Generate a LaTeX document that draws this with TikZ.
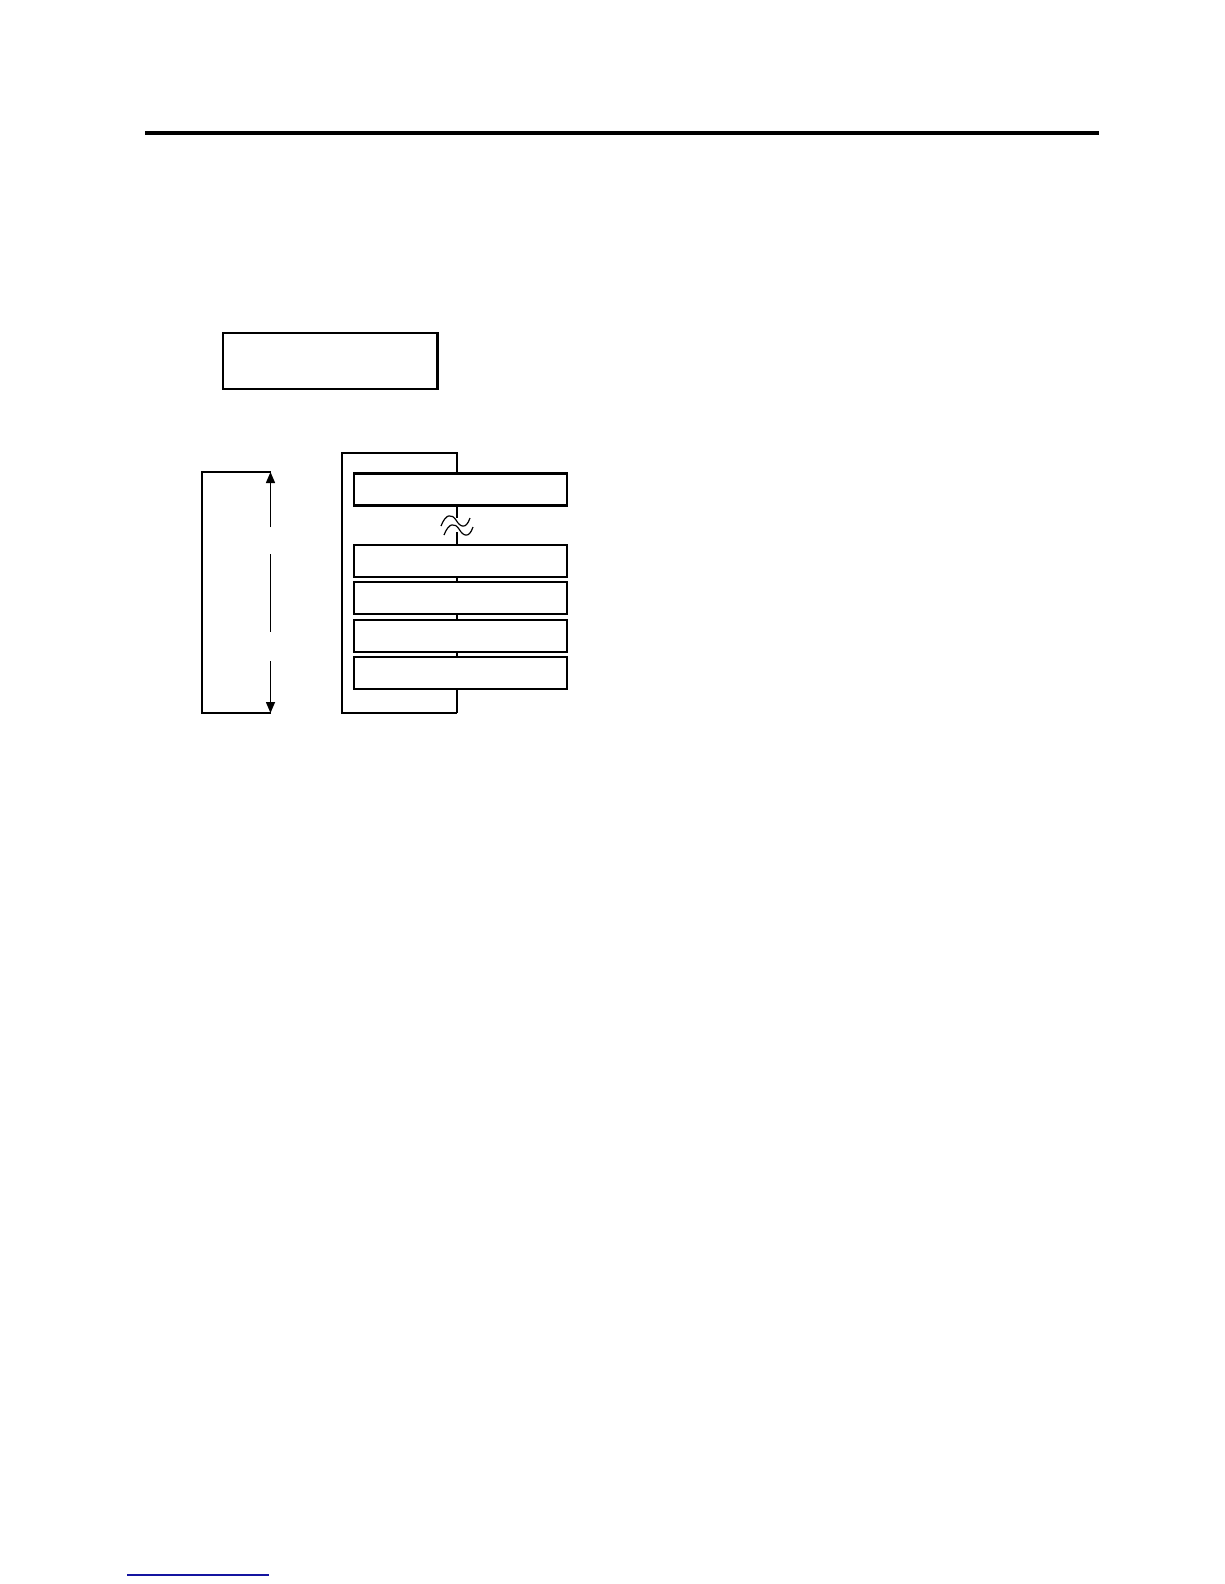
\documentclass[tikz,border=0pt]{standalone}
\usetikzlibrary{arrows.meta}
\begin{document}
\begin{tikzpicture}[x=1pt,y=-1pt,
  ln/.style={line width=1.5pt},
  slot/.style={draw,fill=white,line width=1.6pt,minimum width=213pt,minimum height=32pt,inner sep=0pt},
  thickslot/.style={slot,line width=2.4pt},
  tip/.style={-{Triangle[length=11pt,width=9pt]}},
  wave/.style={line width=1.2pt},
]
\useasboundingbox (0,0) rectangle (1224,1584);
% top rule
\coordinate (rl) at (145,133); \coordinate (rr) at (1099,133);
\draw[line width=4pt] (rl) -- (rr);
% upper box
\node[slot,minimum width=214pt,minimum height=56pt] (hdr) at (330,361) {};
\draw[line width=2.6pt] (hdr.north east) -- (hdr.south east);
% bracket
\coordinate (bt) at (342,453); \coordinate (btr) at (458,453);
\coordinate (bb) at (342,713); \coordinate (bbr) at (457,713);
\coordinate (sp0) at (457,453);
\coordinate (sp1) at (457,518); \coordinate (sp2) at (457,532);
\draw[ln] (btr) -- (bt) -- (bb) -- (bbr);
\draw[ln] (sp0) -- (sp1);
\draw[ln] (sp2) -- (bbr);
% tilde mark
\draw[wave] (441,526) .. controls (446,513) and (452,514) .. (456,520) .. controls (460,527) and (466,530) .. (470,518);
\draw[wave] (444,535) .. controls (449,522) and (455,523) .. (459,529) .. controls (463,536) and (469,539) .. (473,527);
% slots
\node[thickslot] (s1) at (460.5,489.5) {};
\node[slot] (s2) at (460.5,561) {};
\node[slot] (s3) at (460.5,598) {};
\node[thickslot] (s4) at (460.5,636) {};
\node[slot] (s5) at (460.5,673) {};
% dimension
\coordinate (dtl) at (202,472); \coordinate (dtr) at (270.5,472);
\coordinate (dbl) at (202,713); \coordinate (dbr) at (270.5,713);
\coordinate (g1) at (270.5,527); \coordinate (g2) at (270.5,554);
\coordinate (g3) at (270.5,632); \coordinate (g4) at (270.5,661);
\draw[ln] (dtr) -- (dtl) -- (dbl) -- (dbr);
\draw[ln,tip] (g1) -- (dtr);
\draw[ln] (g2) -- (g3);
\draw[ln,tip] (g4) -- (dbr);
% bottom blue line
\coordinate (ul) at (127,1575); \coordinate (ur) at (269,1575);
\draw[line width=1.5pt,color={rgb,255:red,20;green,20;blue,160}] (ul) -- (ur);
\end{tikzpicture}
\end{document}
